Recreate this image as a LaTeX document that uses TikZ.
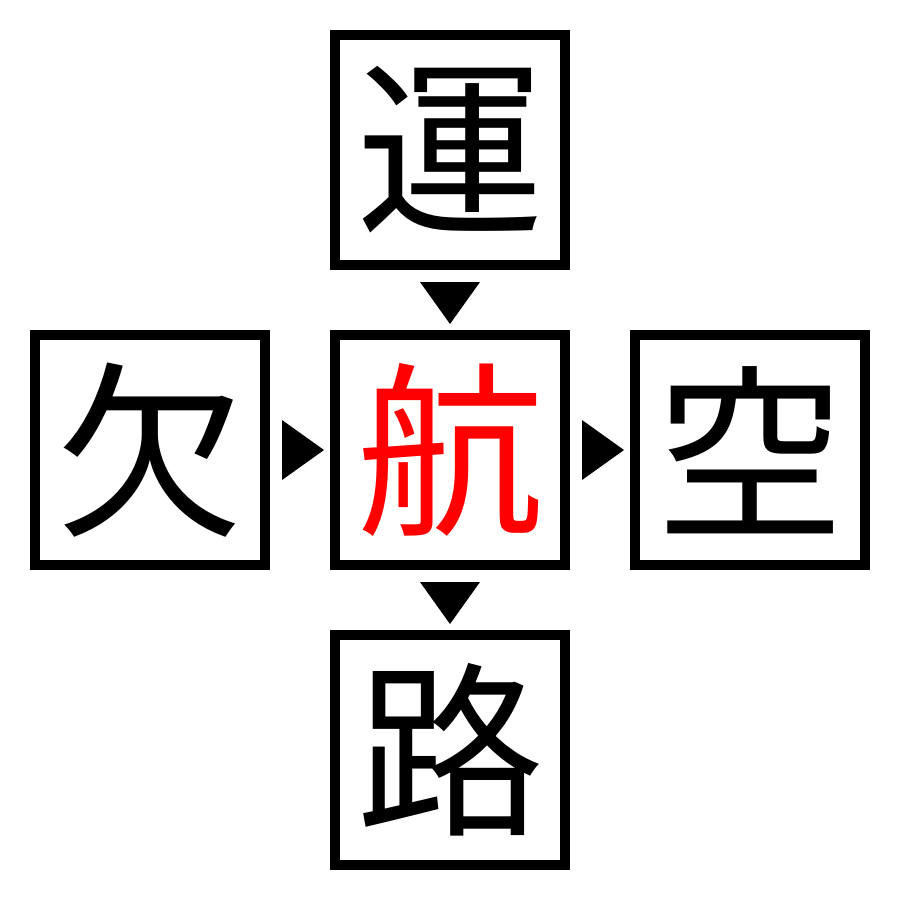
\documentclass[tikz,border=0pt]{standalone}
\usepackage{fontspec}
\newfontfamily\cjk{Noto Sans CJK JP}
\usetikzlibrary{calc}
\begin{document}
\begin{tikzpicture}[x=1pt,y=-1pt,
  charbox/.style={draw=black,line width=10pt,minimum size=230pt,inner sep=0pt,outer sep=0pt,
    font=\cjk\fontsize{188}{188}\selectfont},
  tri/.style={fill=black}]
\useasboundingbox (0,0) rectangle (900,900);
\node[charbox] (top) at (450,150) {運};
\node[charbox] (lft) at (150,450) {欠};
\node[charbox,text=red] (c) at (450,450) {航};
\node[charbox] (rgt) at (750,450) {空};
\node[charbox] (bot) at (450,750) {路};
% down-pointing triangles
\coordinate (m1) at ($(top.south)!0.5!(c.north)$);
\coordinate (m2) at ($(c.south)!0.5!(bot.north)$);
\fill[tri] (m1) ++(-30,-18) -- ++(60,0) -- ++(-30,42) -- cycle;
\fill[tri] (m2) ++(-30,-18) -- ++(60,0) -- ++(-30,42) -- cycle;
% right-pointing triangles
\coordinate (m3) at ($(lft.east)!0.5!(c.west)$);
\coordinate (m4) at ($(c.east)!0.5!(rgt.west)$);
\fill[tri] (m3) ++(-18,-30) -- ++(0,60) -- ++(42,-30) -- cycle;
\fill[tri] (m4) ++(-18,-30) -- ++(0,60) -- ++(42,-30) -- cycle;
\end{tikzpicture}
\end{document}
